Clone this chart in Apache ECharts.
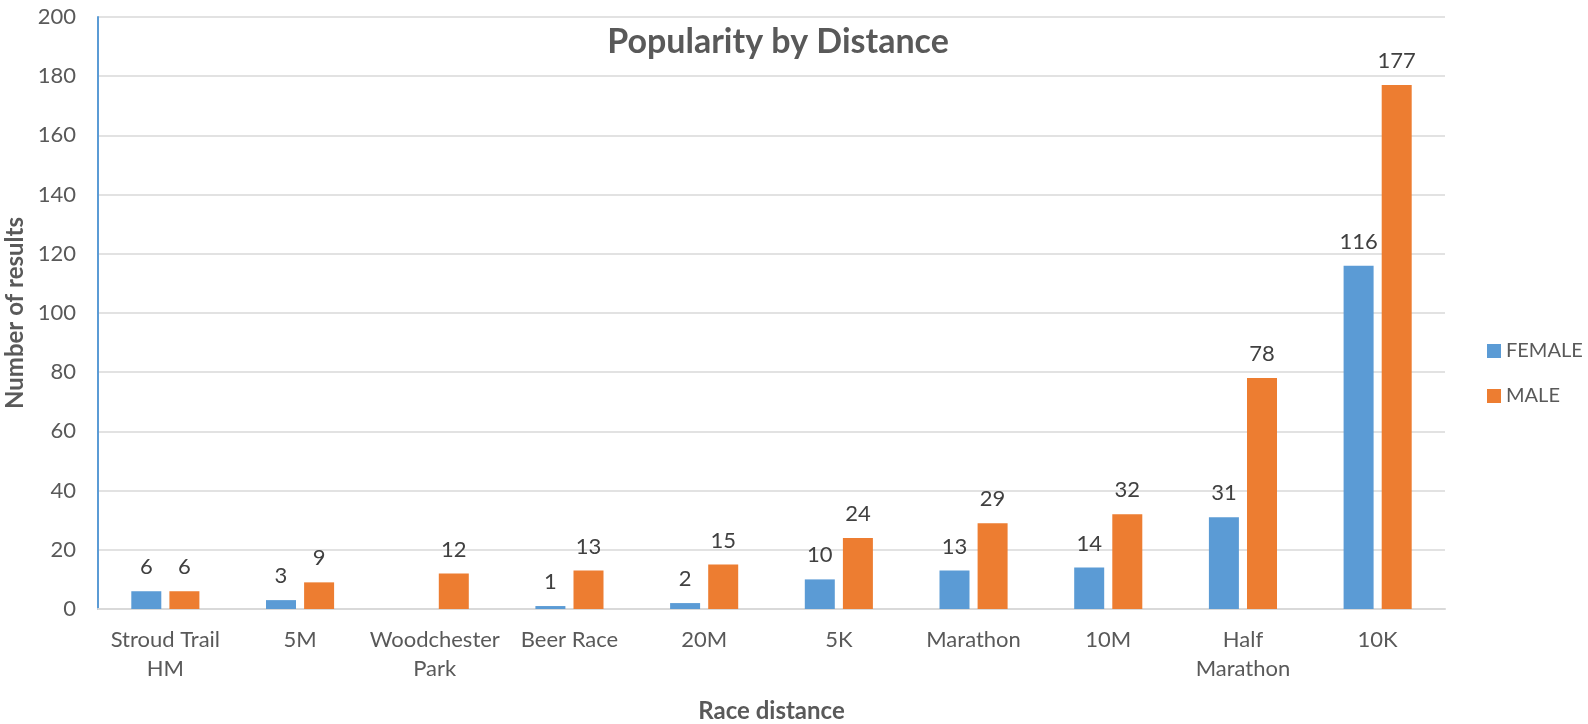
<!DOCTYPE html>
<html>
<head>
<meta charset="utf-8">
<script src="https://cdn.jsdelivr.net/npm/echarts@6/dist/echarts.min.js"></script>
<style>html,body{margin:0;padding:0;background:#fff;overflow:hidden;}#c{width:1588px;height:724px;}</style>
</head>
<body>
<div id="c"></div>
<script>
const categories = ['Stroud Trail\nHM','5M','Woodchester\nPark','Beer Race','20M','5K','Marathon','10M','Half\nMarathon','10K'];
const female = [6,3,0,1,2,10,13,14,31,116];
const male = [6,9,12,13,15,24,29,32,78,177];
const yTicks = {min:0, max:200, interval:20};

const FONT = 'Lato';
const chart = echarts.init(document.getElementById('c'));
const labelCfg = {
  show: true, position: 'top', distance: 13,
  color: '#404040', fontSize: 22, fontFamily: FONT,
  formatter: p => (p.value === 0 ? '' : p.value)
};
chart.setOption({
  animation: false,
  title: {
    text: 'Popularity by Distance', left: 773, top: 20, textAlign: 'center',
    textStyle: {fontSize: 34, fontWeight: 'bold', color: '#595959', fontFamily: FONT}
  },
  legend: {
    orient: 'vertical', left: 1482, top: 336, itemWidth: 14, itemHeight: 14, itemGap: 25,
    icon: 'rect',
    textStyle: {fontSize: 20, lineHeight: 20, color: '#595959', fontFamily: FONT},
    data: ['FEMALE','MALE']
  },
  grid: {left: 98, right: 143, top: 17, bottom: 115, outerBoundsMode: 'none', containLabel: false},
  xAxis: {
    type: 'category', data: categories,
    name: 'Race distance', nameLocation: 'middle', nameGap: 90,
    nameTextStyle: {fontSize: 24, fontWeight: 'bold', color: '#595959', fontFamily: FONT},
    axisLine: {lineStyle: {color: '#d9d9d9', width: 2}},
    axisTick: {show: false},
    axisLabel: {fontSize: 22, color: '#595959', fontFamily: FONT, margin: 16, lineHeight: 29, interval: 0}
  },
  yAxis: {
    type: 'value', min: yTicks.min, max: yTicks.max, interval: yTicks.interval,
    name: 'Number of results', nameLocation: 'middle', nameGap: 70,
    nameTextStyle: {fontSize: 24, fontWeight: 'bold', color: '#595959', fontFamily: FONT},
    axisLine: {show: true, lineStyle: {color: '#5b9bd5', width: 2}},
    axisTick: {show: false},
    splitLine: {lineStyle: {color: '#d9d9d9', width: 1.5}},
    axisLabel: {fontSize: 22, color: '#595959', fontFamily: FONT, margin: 22}
  },
  series: [
    {name: 'FEMALE', type: 'bar', data: female, barWidth: 30, barGap: '27%',
     itemStyle: {color: '#5b9bd5'}, label: labelCfg},
    {name: 'MALE', type: 'bar', data: male, barWidth: 30,
     itemStyle: {color: '#ed7d31'}, label: labelCfg}
  ]
});
</script>
</body>
</html>
